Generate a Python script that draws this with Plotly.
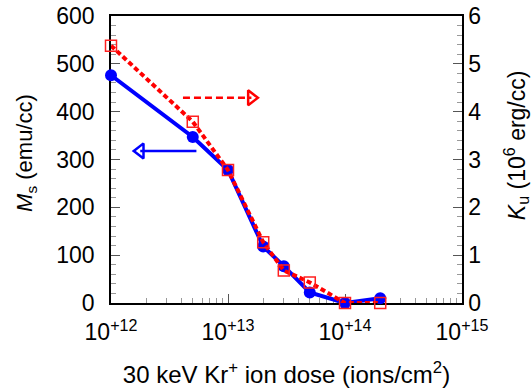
import plotly.graph_objects as go

dose = [1e12, 5e12, 1e13, 2e13, 3e13, 5e13, 1e14, 2e14]
ms_vals = [476, 347, 278, 118, 77, 22, 0, 10]
ku_vals = [5.38, 3.79, 2.78, 1.27, 0.68, 0.43, 0.0, 0.0]
x_tick_vals = [1e12, 1e13, 1e14, 1e15]
x_tick_text = ["10<sup>+12</sup>", "10<sup>+13</sup>", "10<sup>+14</sup>", "10<sup>+15</sup>"]

FONT = "Liberation Sans, Arial, Helvetica, sans-serif"

fig = go.Figure()
fig.add_trace(go.Scatter(
    x=dose, y=ms_vals, mode="lines+markers",
    line=dict(color="#0000ff", width=4),
    marker=dict(symbol="circle", size=12, color="#0000ff"),
    cliponaxis=False, yaxis="y", showlegend=False))
fig.add_trace(go.Scatter(
    x=dose, y=ku_vals, mode="lines+markers",
    line=dict(color="#ff0000", width=4, dash="5px,3px"),
    marker=dict(symbol="square-open", size=11, color="#ff2020", line=dict(width=1.5)),
    cliponaxis=False, yaxis="y2", showlegend=False))

# arrows indicating axes
fig.add_trace(go.Scatter(
    x=[10**12.615, 10**13.2], y=[4.29, 4.29], mode="lines",
    line=dict(color="#ff0000", width=2.5, dash="7px,4px"), yaxis="y2",
    showlegend=False, hoverinfo="skip"))
fig.add_trace(go.Scatter(
    x=[10**13.2], y=[4.29], mode="markers",
    marker=dict(symbol="triangle-right-open", size=13, color="#ff0000", line=dict(width=2.5)),
    yaxis="y2", showlegend=False, hoverinfo="skip"))
fig.add_trace(go.Scatter(
    x=[10**12.73, 10**12.25], y=[318, 318], mode="lines",
    line=dict(color="#0000ff", width=2.5), yaxis="y",
    showlegend=False, hoverinfo="skip"))
fig.add_trace(go.Scatter(
    x=[10**12.25], y=[318], mode="markers",
    marker=dict(symbol="triangle-left-open", size=13, color="#0000ff", line=dict(width=2.5)),
    yaxis="y", showlegend=False, hoverinfo="skip"))

axis_common = dict(showline=True, linecolor="black", linewidth=1.5, showgrid=False,
                   zeroline=False, ticks="inside", tickcolor="#555", ticklen=9,
                   automargin=False, layer="below traces",
                   tickfont=dict(family=FONT, size=23, color="black"))

fig.update_layout(
    width=531, height=392,
    margin=dict(l=111, r=69, t=16, b=89),
    paper_bgcolor="white", plot_bgcolor="white",
    font=dict(family=FONT, color="black"),
    xaxis=dict(type="log", range=[11.99999, 15.00001], tickvals=x_tick_vals, ticktext=x_tick_text,
               mirror=True, ticklabelstandoff=8,
               minor=dict(ticks="inside", ticklen=5, tickcolor="#999", dtick="D1", showgrid=False),
               title=dict(text="30 keV Kr<sup>+</sup> ion dose (ions/cm<sup>2</sup>)",
                          font=dict(family=FONT, size=24), standoff=22),
               **axis_common),
    yaxis=dict(range=[-0.01, 600], dtick=100, ticklabelstandoff=10,
               minor=dict(ticks="inside", ticklen=5, tickcolor="#999", dtick=20, showgrid=False),
               **axis_common),
    yaxis2=dict(range=[-0.0001, 6], dtick=1, overlaying="y", side="right",
                minor=dict(ticks="inside", ticklen=5, tickcolor="#999", dtick=0.2, showgrid=False),
                **axis_common),
    annotations=[
        dict(text="<i>M</i><sub>s</sub> (emu/cc)", textangle=-90, showarrow=False,
             xref="paper", yref="paper", x=0, y=0.523, xanchor="center", yanchor="middle",
             xshift=-85, font=dict(family=FONT, size=22, color="black")),
        dict(text="<i>K</i><sub>u</sub> (10<sup>6</sup> erg/cc)", textangle=-90, showarrow=False,
             xref="paper", yref="paper", x=1, y=0.55, xanchor="center", yanchor="middle",
             xshift=54, font=dict(family=FONT, size=23, color="black")),
    ],
)

fig.write_html("out.html", config={"displayModeBar": False},
               post_script="document.body.style.margin='0';document.body.style.overflow='hidden';")
